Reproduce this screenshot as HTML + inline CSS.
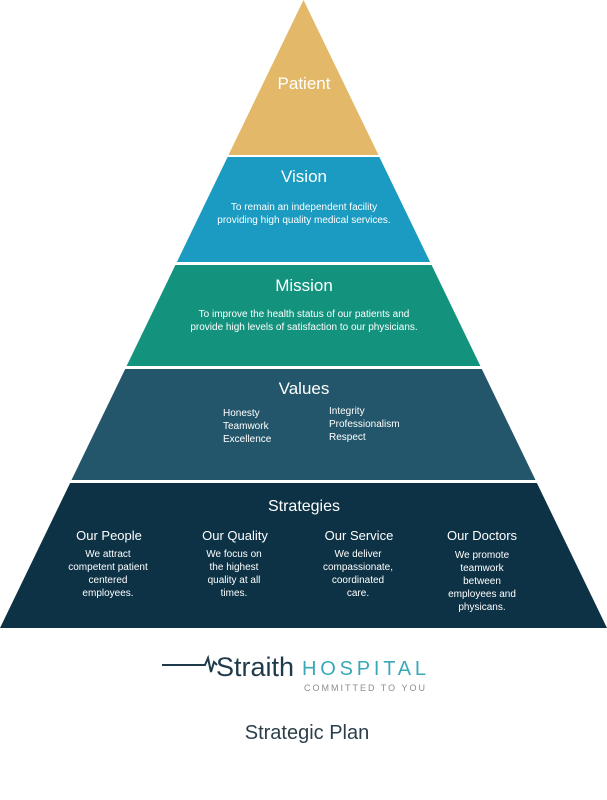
<!DOCTYPE html>
<html><head><meta charset="utf-8"><style>
html,body{margin:0;padding:0;background:#fff;}
svg{display:block;}
text{font-family:"Liberation Sans",sans-serif;fill:#fff;}
</style></head><body>
<svg width="607" height="800" viewBox="0 0 607 800" xmlns="http://www.w3.org/2000/svg">
<polygon points="303.5,0 378.5,155 228.5,155" fill="#E3B869"/>
<polygon points="227.6,157 379.4,157 430.1,262 176.9,262" fill="#1B9BC1"/>
<polygon points="175.4,265 431.6,265 480.4,366 126.6,366" fill="#13937E"/>
<polygon points="125.2,369 481.8,369 535.5,480 71.5,480" fill="#23566A"/>
<polygon points="70.1,483 536.9,483 607,628 0,628" fill="#0D3245"/>

<text x="304" y="89" font-size="17" text-anchor="middle">Patient</text>
<text x="304" y="182" font-size="17" text-anchor="middle">Vision</text>
<text x="304" y="210" font-size="10" text-anchor="middle">To remain an independent facility</text>
<text x="304" y="223" font-size="10" text-anchor="middle">providing high quality medical services.</text>
<text x="304" y="291" font-size="17" text-anchor="middle">Mission</text>
<text x="304" y="317" font-size="10" text-anchor="middle">To improve the health status of our patients and</text>
<text x="304" y="330" font-size="10" text-anchor="middle">provide high levels of satisfaction to our physicians.</text>
<text x="304" y="394" font-size="17" text-anchor="middle">Values</text>
<text x="223" y="416" font-size="10">Honesty</text>
<text x="223" y="429" font-size="10">Teamwork</text>
<text x="223" y="442" font-size="10">Excellence</text>
<text x="329" y="414" font-size="10">Integrity</text>
<text x="329" y="427" font-size="10">Professionalism</text>
<text x="329" y="440" font-size="10">Respect</text>
<text x="304" y="511" font-size="16" text-anchor="middle">Strategies</text>

<g font-size="13" text-anchor="middle">
<text x="109" y="540">Our People</text>
<text x="235" y="540">Our Quality</text>
<text x="359" y="540">Our Service</text>
<text x="482" y="540">Our Doctors</text>
</g>
<g font-size="10" text-anchor="middle">
<text x="108" y="557">We attract</text>
<text x="108" y="570">competent patient</text>
<text x="108" y="583">centered</text>
<text x="108" y="596">employees.</text>
<text x="234" y="557">We focus on</text>
<text x="234" y="570">the highest</text>
<text x="234" y="583">quality at all</text>
<text x="234" y="596">times.</text>
<text x="358" y="557">We deliver</text>
<text x="358" y="570">compassionate,</text>
<text x="358" y="583">coordinated</text>
<text x="358" y="596">care.</text>
<text x="482" y="558">We promote</text>
<text x="482" y="571">teamwork</text>
<text x="482" y="584">between</text>
<text x="482" y="597">employees and</text>
<text x="482" y="610">physicans.</text>
</g>

<path d="M162,665 L205,665 L208,658 L211,672 L214,662 L217,665" stroke="#1f3a4a" stroke-width="2" fill="none"/>
<text x="216" y="676" font-size="27" style="fill:#1f3a4a">Straith</text>
<text x="302" y="675" font-size="20" style="fill:#3aa8b8" textLength="124">HOSPITAL</text>
<text x="304" y="691" font-size="9" style="fill:#8a8f92" textLength="121">COMMITTED TO YOU</text>
<text x="307" y="739" font-size="20" text-anchor="middle" style="fill:#2a3f4a">Strategic Plan</text>
</svg>
</body></html>
